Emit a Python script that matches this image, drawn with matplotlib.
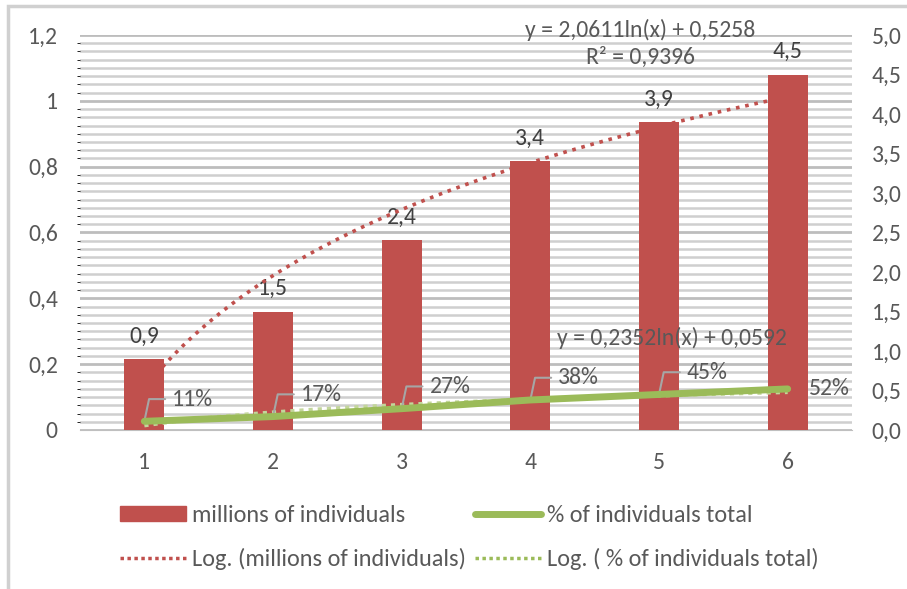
import numpy as np
import matplotlib
matplotlib.use("Agg")
from matplotlib import pyplot as plt
from matplotlib.ticker import FuncFormatter, MultipleLocator
from matplotlib.lines import Line2D
from matplotlib.patches import Patch, Rectangle

# data
categories = [1, 2, 3, 4, 5, 6]
millions = [0.9, 1.5, 2.4, 3.4, 3.9, 4.5]
pct_total = [0.11, 0.17, 0.27, 0.38, 0.45, 0.52]
pct_labels = ["11%", "17%", "27%", "38%", "45%", "52%"]
# log trendlines as printed on the chart: y = a*ln(x) + b
trend_mill = [2.0611, 0.5258]
trend_mill_r2 = 0.9396
trend_pct = [0.2352, 0.0592]

red = "#c0504d"
green = "#9bbb59"
txt = "#595959"

plt.rcParams['font.family'] = ['Carlito', 'Lato', 'DejaVu Sans']
fs = 17

def comma(v, pos=None):
    return ("%g" % v).replace(".", ",")

fig = plt.figure(figsize=(9.07, 5.89), dpi=100)
# outer frame of the chart area
fig.patches.append(Rectangle((8/907, -0.1), 1.2, 1.1 - 6/589, transform=fig.transFigure,
                             fill=False, edgecolor="#d0d0d0", lw=2.5))

ax = fig.add_axes([80/907, 1-430/589, 772/907, 395/589])
ax2 = ax.twinx()

ax.set_xlim(0.5, 6.5)
ax.set_ylim(0, 1.2)
ax2.set_ylim(0, 5)
ax.yaxis.set_major_locator(MultipleLocator(0.2))
ax.yaxis.set_minor_locator(MultipleLocator(0.025))
ax.yaxis.set_major_formatter(FuncFormatter(lambda v, p: comma(round(v, 2))))
ax2.yaxis.set_major_locator(MultipleLocator(0.5))
ax2.yaxis.set_major_formatter(FuncFormatter(lambda v, p: ("%.1f" % v).replace(".", ",")))
ax.set_xticks(categories)

ax.grid(axis='y', which='minor', color="#cfcfcf", lw=1.8)
ax.grid(axis='y', which='major', color="#bdbdbd", lw=2)
ax.set_axisbelow(True)

for a in (ax, ax2):
    for s in a.spines.values():
        s.set_visible(False)
    a.tick_params(length=0, labelsize=fs, colors=txt)
ax.spines['bottom'].set_visible(True)
ax.spines['bottom'].set_color("#bfbfbf")
ax.tick_params(axis='x', pad=16)
ax.tick_params(axis='y', pad=16)
ax2.tick_params(axis='y', pad=14)

x = np.array(categories)
ax2.bar(x, millions, width=0.31, color=red, zorder=2)
for xi, v in zip(x, millions):
    ax2.annotate(comma(v), (xi, v), xytext=(0, 9), textcoords='offset points',
                 ha='center', va='bottom', fontsize=fs, color="#404040")

xs = np.linspace(1, 6, 200)
ax2.plot(xs, trend_mill[0]*np.log(xs) + trend_mill[1], ls=(0, (1, 1.6)), color=red,
         lw=2.6, zorder=3)
ax2.plot(xs, trend_pct[0]*np.log(xs) + trend_pct[1], ls=(0, (1, 1.2)), color="#c3d69b",
         lw=3, zorder=3)
ax2.plot(x, pct_total, color=green, lw=5, solid_capstyle='round', zorder=4)

for i, (xi, v, lab) in enumerate(zip(x, pct_total, pct_labels)):
    if i < len(x) - 1:
        ax2.annotate(lab, (xi, v), xytext=(20, 16), textcoords='offset points',
                     ha='left', va='center', fontsize=fs, color=txt,
                     arrowprops=dict(arrowstyle='-', color="#a6a6a6", lw=1.5,
                                     shrinkA=3, shrinkB=0, relpos=(0, 0.5),
                                     connectionstyle="angle,angleA=0,angleB=78,rad=0"))
    else:
        ax2.annotate(lab, (xi, v), xytext=(15, 0), textcoords='offset points',
                     ha='left', va='center', fontsize=fs, color=txt)

ax2.text(640/907, 1-30/589, "y = %sln(x) + %s" % (comma(trend_mill[0]), comma(trend_mill[1])),
         transform=fig.transFigure, ha='center', va='center', fontsize=fs, color=txt)
ax2.text(640/907, 1-57/589, "R² = %s" % comma(trend_mill_r2),
         transform=fig.transFigure, ha='center', va='center', fontsize=fs, color=txt)
ax2.text(672/907, 1-338/589, "y = %sln(x) + %s" % (comma(trend_pct[0]), comma(trend_pct[1])),
         transform=fig.transFigure, ha='center', va='center', fontsize=fs, color=txt, zorder=5)

handles = [Patch(color=red), Line2D([], [], color=red, ls=(0, (1, 1)), lw=2.5),
           Line2D([], [], color=green, lw=5, solid_capstyle='round'),
           Line2D([], [], color=green, ls=(0, (1, 1)), lw=2.5)]
labels = ["millions of individuals", "Log. (millions of individuals)",
          "% of individuals total", "Log. ( % of individuals total)"]
lfs = 17.5
fig.legend(handles, labels, ncol=2, loc='upper left', bbox_to_anchor=(120/907, 1-505/589),
           frameon=False, fontsize=lfs, labelcolor=txt, handlelength=2.7, handleheight=0.6,
           handletextpad=0.25, columnspacing=0.4, borderpad=0, borderaxespad=0,
           labelspacing=0.9)

fig.savefig("out.png", dpi=100)
